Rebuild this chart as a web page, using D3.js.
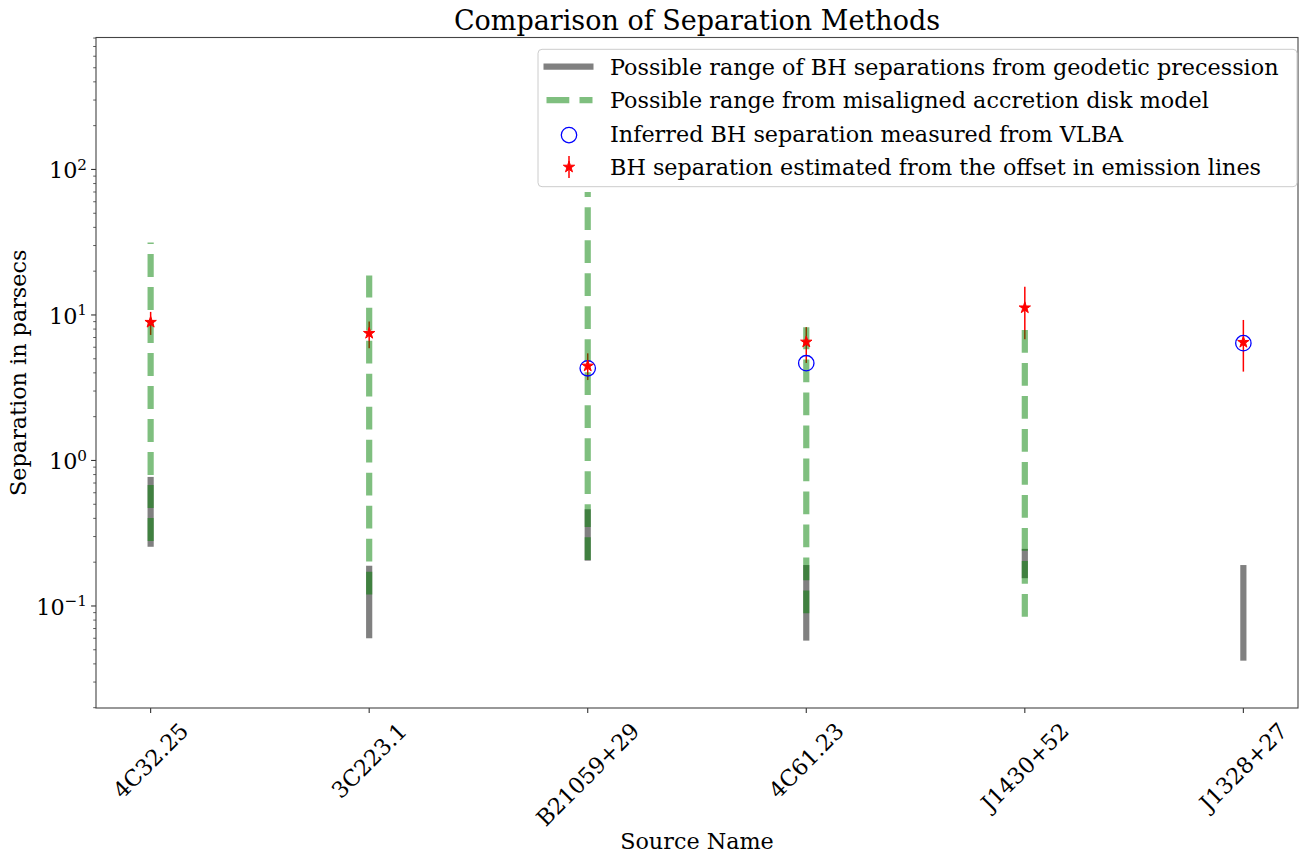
<!DOCTYPE html>
<html>
<head>
<meta charset="utf-8">
<script src="https://cdn.jsdelivr.net/npm/d3@7"></script>
<style>
    html, body { margin: 0; padding: 0; background: #fff; }
    svg { display: block; font-family: 'DejaVu Serif', serif; }
</style>
</head>
<body>
<svg id="chart" width="1299" height="853"></svg>
<script>
'use strict';

// Values (parsecs)
var sources = ['4C32.25', '3C223.1', 'B21059+29', '4C61.23', 'J1430+52', 'J1328+27'];
var geodeticLow = [0.268, 0.063, 0.215, 0.0607, 0.163, 0.0442];
var geodeticHigh = [0.734, 0.180, 0.44, 0.182, 0.235, 0.182];
var diskLow = [0.28, 0.12, 0.207, 0.089, 0.0844, null];
var diskHigh = [31.5, 18.7, 70, 8.23, 7.88, null];
var vlbaSep = [null, null, 4.30, 4.66, null, 6.4];
var emissionSep = [8.91, 7.48, 4.46, 6.52, 11.2, 6.49];
var emissionLow = [7.29, 5.9, 3.57, 4.68, 6.81, 4.08];
var emissionHigh = [10.5, 9.0, 5.45, 8.25, 15.6, 9.24];
var yExponents = [-1, 0, 1, 2];
var legendLabels = [
    'Possible range of BH separations from geodetic precession',
    'Possible range from misaligned accretion disk model',
    'Inferred BH separation measured from VLBA',
    'BH separation estimated from the offset in emission lines'
];

var FONT = 22.3;

var SeparationChart = {
    svg: null,
    x: null,
    y: null,
    left: 96,
    right: 1298,
    top: 37.5,
    bottom: 708,

    init: function(svgTargetId) {
        this.svg = d3.select('#' + svgTargetId);

        this.x = d3.scaleLinear()
            .domain([-0.25, sources.length - 0.75])
            .range([this.left, this.right]);

        this.y = d3.scaleLog()
            .domain([0.0199, 807])
            .range([this.bottom, this.top]);

        this.drawAxes();
        this.drawMarks();
        this.drawLegend();
        this.drawTexts();
    },

    drawAxes: function() {
        let x = this.x, y = this.y;
        let g = this.svg.append('g').attr('class', 'axes');

        // minor ticks on the log axis
        let minor = [];
        yExponents.concat([-2]).forEach(function(e) {
            for (let m = 2; m <= 9; m++) minor.push(m * Math.pow(10, e));
        });
        minor = minor.filter(function(v) { return v >= y.domain()[0] && v <= y.domain()[1]; });

        g.selectAll('line.minor').data(minor).enter().append('line')
            .attr('x1', this.left).attr('x2', this.left - 2.8)
            .attr('y1', d => y(d)).attr('y2', d => y(d))
            .attr('stroke', '#333').attr('stroke-width', 0.8);

        g.selectAll('line.major').data(yExponents).enter().append('line')
            .attr('x1', this.left).attr('x2', this.left - 4.9)
            .attr('y1', d => y(Math.pow(10, d))).attr('y2', d => y(Math.pow(10, d)))
            .attr('stroke', '#333').attr('stroke-width', 1.1);

        let lab = g.selectAll('text.ytick').data(yExponents).enter().append('text')
            .attr('x', this.left - 9)
            .attr('y', d => y(Math.pow(10, d)) + 8.8)
            .attr('text-anchor', 'end')
            .attr('font-size', FONT)
            .attr('fill', '#000');
        lab.append('tspan').text('10');
        lab.append('tspan')
            .attr('dy', -8.5)
            .attr('font-size', 15.2)
            .text(d => String(d).replace('-', '\u2212'));

        // x ticks
        g.selectAll('line.xtick').data(sources).enter().append('line')
            .attr('x1', (d, i) => x(i)).attr('x2', (d, i) => x(i))
            .attr('y1', this.bottom).attr('y2', this.bottom + 4.9)
            .attr('stroke', '#333').attr('stroke-width', 1.1);

        let top = this.bottom + 9.8;
        g.selectAll('text.xtick').data(sources).enter().append('text')
            .attr('font-size', FONT)
            .attr('text-anchor', 'middle')
            .attr('dy', '0.35em')
            .text(d => d)
            .each(function(d, i) {
                let len = this.getComputedTextLength();
                let h = (len + FONT * 1.17) * Math.SQRT1_2;
                let cx = x(i), cy = top + h / 2;
                d3.select(this)
                    .attr('x', cx).attr('y', cy)
                    .attr('transform', 'rotate(-45,' + cx + ',' + cy + ')');
            });

        // frame
        g.append('rect')
            .attr('x', this.left).attr('y', this.top)
            .attr('width', this.right - this.left)
            .attr('height', this.bottom - this.top)
            .attr('fill', 'none')
            .attr('stroke', '#444').attr('stroke-width', 1.1);
    },

    drawMarks: function() {
        let x = this.x, y = this.y;
        let g = this.svg.append('g').attr('class', 'marks');
        let idx = d3.range(sources.length);

        // geodetic precession range (solid grey)
        g.selectAll('line.geo').data(idx).enter().append('line')
            .attr('x1', i => x(i)).attr('x2', i => x(i))
            .attr('y1', i => y(geodeticLow[i])).attr('y2', i => y(geodeticHigh[i]))
            .attr('stroke', '#808080')
            .attr('stroke-width', 6.2)
            .attr('stroke-linecap', 'square');

        // error bars of emission-line estimate sit below the green dashes
        g.selectAll('line.err').data(idx).enter().append('line')
            .attr('x1', i => x(i)).attr('x2', i => x(i))
            .attr('y1', i => y(emissionLow[i])).attr('y2', i => y(emissionHigh[i]))
            .attr('stroke', 'red')
            .attr('stroke-width', 1.5);

        // misaligned disk range (green, dashed, drawn bottom -> top)
        g.selectAll('line.disk').data(idx.filter(i => diskLow[i] != null)).enter().append('line')
            .attr('x1', i => x(i)).attr('x2', i => x(i))
            .attr('y1', i => y(diskLow[i])).attr('y2', i => y(diskHigh[i]))
            .attr('stroke', 'green')
            .attr('stroke-opacity', 0.5)
            .attr('stroke-width', 6.2)
            .attr('stroke-dasharray', '22.8,10.2');

        // VLBA separations
        g.selectAll('circle.vlba').data(idx.filter(i => vlbaSep[i] != null)).enter().append('circle')
            .attr('cx', i => x(i)).attr('cy', i => y(vlbaSep[i]))
            .attr('r', 7.7)
            .attr('fill', 'none')
            .attr('stroke', 'blue')
            .attr('stroke-width', 1.3);

        // emission line estimates
        let star = d3.symbol().type(d3.symbolStar).size(40);
        g.selectAll('path.star').data(idx).enter().append('path')
            .attr('d', star)
            .attr('transform', i => 'translate(' + x(i) + ',' + y(emissionSep[i]) + ')')
            .attr('fill', 'red')
            .attr('stroke', 'red')
            .attr('stroke-width', 1);
    },

    drawLegend: function() {
        let g = this.svg.append('g').attr('class', 'legend');
        g.append('rect')
            .attr('x', 538).attr('y', 49.3)
            .attr('width', 1297 - 538).attr('height', 186.7 - 49.3)
            .attr('rx', 4)
            .attr('fill', '#fff').attr('fill-opacity', 0.8)
            .attr('stroke', '#cccccc').attr('stroke-width', 1);

        let rowY = function(i) { return 66.7 + i * 33.45; };
        let x0 = 543.5, x1 = 593.5, xm = 569;

        g.append('line')
            .attr('x1', x0).attr('x2', x1)
            .attr('y1', rowY(0)).attr('y2', rowY(0))
            .attr('stroke', '#808080').attr('stroke-width', 6.2);

        g.append('line')
            .attr('x1', x0 + 3).attr('x2', x1 - 1)
            .attr('y1', rowY(1)).attr('y2', rowY(1))
            .attr('stroke', 'green').attr('stroke-opacity', 0.5)
            .attr('stroke-width', 6.2)
            .attr('stroke-dasharray', '22.8,10.2');

        g.append('circle')
            .attr('cx', xm).attr('cy', rowY(2) + 1.5)
            .attr('r', 7.7)
            .attr('fill', 'none').attr('stroke', 'blue').attr('stroke-width', 1.3);

        g.append('line')
            .attr('x1', xm).attr('x2', xm)
            .attr('y1', rowY(3) - 11).attr('y2', rowY(3) + 11)
            .attr('stroke', 'red').attr('stroke-width', 1.5);
        g.append('path')
            .attr('d', d3.symbol().type(d3.symbolStar).size(40))
            .attr('transform', 'translate(' + xm + ',' + rowY(3) + ')')
            .attr('fill', 'red').attr('stroke', 'red').attr('stroke-width', 1);

        g.selectAll('text').data(legendLabels).enter().append('text')
            .attr('x', 610)
            .attr('y', (d, i) => rowY(i) + 8)
            .attr('font-size', FONT)
            .attr('fill', '#000')
            .text(d => d);
    },

    drawTexts: function() {
        let cx = (this.left + this.right) / 2;
        this.svg.append('text')
            .attr('x', cx).attr('y', 30)
            .attr('text-anchor', 'middle')
            .attr('font-size', 27)
            .text('Comparison of Separation Methods');

        this.svg.append('text')
            .attr('x', cx).attr('y', 849)
            .attr('text-anchor', 'middle')
            .attr('font-size', FONT)
            .text('Source Name');

        let cy = (this.top + this.bottom) / 2;
        this.svg.append('text')
            .attr('transform', 'translate(26,' + cy + ') rotate(-90)')
            .attr('text-anchor', 'middle')
            .attr('font-size', FONT)
            .text('Separation in parsecs');
    }
};

SeparationChart.init('chart');
</script>
</body>
</html>
